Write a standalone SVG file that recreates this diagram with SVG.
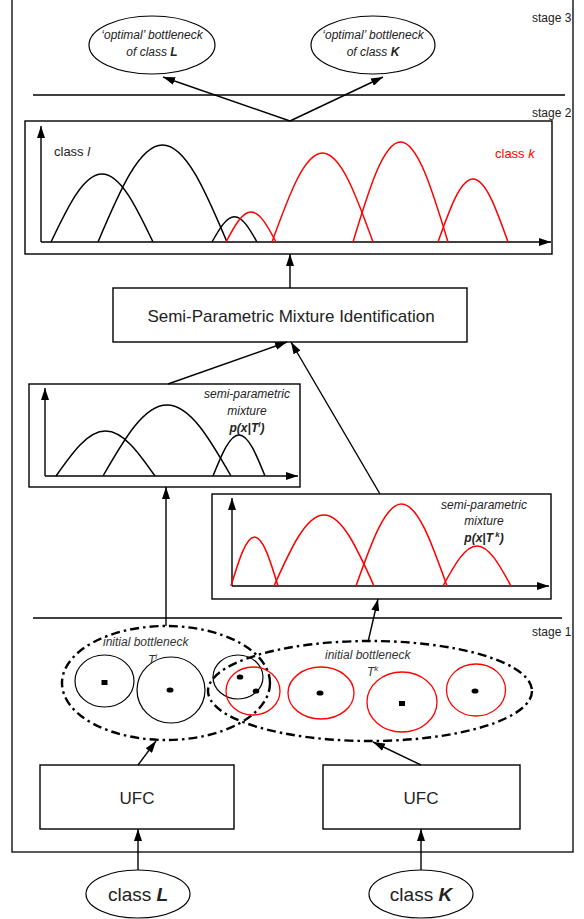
<svg xmlns="http://www.w3.org/2000/svg" width="584" height="919" viewBox="0 0 584 919">
  <style>
    text { font-family: "Liberation Sans", Arial, sans-serif; fill: #222; }
    .box { fill: #fff; stroke: #000; stroke-width: 1.4; }
    .thin { fill: none; stroke: #000; stroke-width: 1.2; }
    .curveK { fill: none; stroke: #000; stroke-width: 1.5; }
    .curveR { fill: none; stroke: #f00; stroke-width: 1.5; }
    .circ { fill: none; stroke: #000; stroke-width: 1.2; }
    .circR { fill: none; stroke: #f00; stroke-width: 1.3; }
    .dashdot { fill: none; stroke: #000; stroke-width: 2.4; stroke-dasharray: 9 4 2.5 4; }
    .conn { fill: none; stroke: #000; stroke-width: 1.4; marker-end: url(#ah); }
    .axis { fill: none; stroke: #000; stroke-width: 1.4; marker-end: url(#ah); }
    .it { font-style: italic; }
    .bi { font-style: italic; font-weight: bold; }
    .lbl { font-size: 12px; }
  </style>
  <defs>
    <marker id="ah" viewBox="0 0 12 8" refX="12" refY="4" markerWidth="12" markerHeight="8" orient="auto" markerUnits="userSpaceOnUse">
      <path d="M0,0 L12,4 L0,8 z" fill="#000"/>
    </marker>
  </defs>

  <!-- outer frame and stage separators -->
  <g id="frame">
    <rect x="12" y="-2" width="561" height="854" fill="none" stroke="#000" stroke-width="1.3"/>
    <line x1="33" y1="95" x2="565" y2="95" stroke="#000" stroke-width="1.3"/>
    <line x1="33" y1="618" x2="562" y2="618" stroke="#000" stroke-width="1.3"/>
    <text x="532" y="22" class="lbl">stage 3</text>
    <text x="532" y="117" class="lbl">stage 2</text>
    <text x="532" y="636" class="lbl">stage 1</text>
  </g>

  <!-- stage 3 results -->
  <g id="optimal-L">
    <ellipse cx="152" cy="45" rx="63" ry="29" class="thin"/>
    <text x="152" y="39" text-anchor="middle" class="lbl it">‘optimal’ bottleneck</text>
    <text x="152" y="56" text-anchor="middle" class="lbl it">of class  <tspan class="bi">L</tspan></text>
  </g>
  <g id="optimal-K">
    <ellipse cx="373" cy="45" rx="62" ry="29" class="thin"/>
    <text x="373" y="39" text-anchor="middle" class="lbl it">‘optimal’ bottleneck</text>
    <text x="373" y="56" text-anchor="middle" class="lbl it">of class  <tspan class="bi">K</tspan></text>
  </g>

  <!-- stage 2 combined mixture plot -->
  <g id="combined-plot">
    <rect x="25" y="121" width="527" height="133" class="box"/>
    <path d="M41,242 V126" class="axis"/>
    <path d="M41,242 H551" class="axis"/>
    <path class="curveK" d="M51,242 C68,206.3 83.6,174 102,174 C120.4,174 136,206.3 153,242"/>
    <path class="curveK" d="M98,242 C119.5,191.1 139.3,145 162.5,145 C185.7,145 205.5,191.1 227,242"/>
    <path class="curveK" d="M212,242 C219.5,228.7 226.4,216.7 234.5,216.7 C242.6,216.7 249.5,228.7 257,242"/>
    <path class="curveR" d="M226,242 C234.4,226.3 242,212 251,212 C260,212 267.7,226.3 276,242"/>
    <path class="curveR" d="M272,242 C288.9,195.3 304.3,153 322.5,153 C340.7,153 356.1,195.3 373,242"/>
    <path class="curveR" d="M353,242 C368.9,189.5 383.4,142 400.5,142 C417.6,142 432.1,189.5 448,242"/>
    <path class="curveR" d="M438,242 C449.7,208.9 460.4,179 473,179 C485.6,179 496.3,208.9 508,242"/>
    <text x="54" y="156" font-size="13">class   <tspan class="it">l</tspan></text>
    <text x="495" y="158" font-size="13" style="fill:#f00">class   <tspan class="it">k</tspan></text>
  </g>

  <!-- identification step -->
  <g id="identification">
    <rect x="113" y="288" width="354" height="54" class="box"/>
    <text x="291" y="322" text-anchor="middle" font-size="17">Semi-Parametric Mixture Identification</text>
  </g>

  <!-- class l mixture -->
  <g id="mixture-l">
    <rect x="29" y="384" width="271" height="103" class="box"/>
    <path d="M45,476 V388" class="axis"/>
    <path d="M45,476 H298" class="axis"/>
    <path class="curveK" d="M56,476 C72.5,452.4 87.7,431 105.5,431 C123.3,431 138.5,452.4 155,476"/>
    <path class="curveK" d="M103,476 C124.4,438.7 144,405 167,405 C190,405 209.6,438.7 231,476"/>
    <path class="curveK" d="M213,476 C221.7,454.5 229.6,435 239,435 C248.4,435 256.3,454.5 265,476"/>
    <text x="247" y="398" text-anchor="middle" class="lbl it">semi-parametric</text>
    <text x="247" y="415" text-anchor="middle" class="lbl it">mixture</text>
    <text x="247" y="432" text-anchor="middle" class="lbl bi">p(x|T<tspan font-size="8" dy="-5">l</tspan><tspan dy="5">)</tspan></text>
  </g>

  <!-- class k mixture -->
  <g id="mixture-k">
    <rect x="212" y="494" width="339" height="105" class="box"/>
    <path d="M232,586 V498" class="axis"/>
    <path d="M232,586 H549" class="axis"/>
    <path class="curveR" d="M231,586 C238.8,560.3 246,537 254.5,537 C263,537 270.2,560.3 278,586"/>
    <path class="curveR" d="M274,586 C290.7,548.7 306,515 324,515 C342,515 357.3,548.7 374,586"/>
    <path class="curveR" d="M356,586 C371.2,543 385.1,504 401.5,504 C417.9,504 431.8,543 447,586"/>
    <path class="curveR" d="M443,586 C454.4,565 464.8,546 477,546 C489.2,546 499.6,565 511,586"/>
    <text x="484" y="509" text-anchor="middle" class="lbl it">semi-parametric</text>
    <text x="484" y="525" text-anchor="middle" class="lbl it">mixture</text>
    <text x="484" y="542" text-anchor="middle" class="lbl bi">p(x|T<tspan font-size="8" dy="-5"> k</tspan><tspan dy="5">)</tspan></text>
  </g>

  <!-- stage 1 initial bottleneck of class l -->
  <g id="bottleneck-l">
    <ellipse cx="166" cy="683" rx="104" ry="57" class="dashdot"/>
    <ellipse cx="104.5" cy="681" rx="29.5" ry="26" class="circ"/>
    <rect x="101.5" y="680" width="6" height="5" fill="#000"/>
    <ellipse cx="171" cy="690" rx="34" ry="33" class="circ"/>
    <ellipse cx="170" cy="690" rx="3.5" ry="2.6" fill="#000"/>
    <ellipse cx="238" cy="677" rx="25" ry="22" class="circ"/>
    <ellipse cx="240" cy="677" rx="3.3" ry="2.6" fill="#000"/>
    <ellipse cx="256" cy="691" rx="3.3" ry="2.6" fill="#000"/>
    <text x="103" y="646" class="lbl it" style="fill:#333">initial bottleneck</text>
    <text x="148" y="664" class="lbl it" style="fill:#333">T<tspan font-size="8" dy="-5">l</tspan></text>
  </g>

  <!-- stage 1 initial bottleneck of class k -->
  <g id="bottleneck-k">
    <ellipse cx="370" cy="691" rx="162" ry="50" class="dashdot"/>
    <ellipse cx="253" cy="691" rx="27" ry="24" class="circR"/>
    <ellipse cx="321" cy="693" rx="33" ry="26" class="circR"/>
    <ellipse cx="320" cy="693" rx="3.5" ry="2.6" fill="#000"/>
    <ellipse cx="402" cy="702" rx="35" ry="30" class="circR"/>
    <rect x="399" y="701" width="6" height="5" fill="#000"/>
    <ellipse cx="476" cy="690" rx="29.5" ry="26" class="circR"/>
    <ellipse cx="475" cy="691" rx="3.5" ry="2.6" fill="#000"/>
    <text x="325" y="659" class="lbl it" style="fill:#333">initial bottleneck</text>
    <text x="367" y="676" class="lbl it" style="fill:#333">T<tspan font-size="8" dy="-5">k</tspan></text>
  </g>

  <!-- feature extraction -->
  <g id="ufc-l">
    <rect x="40" y="765" width="194" height="64" class="box"/>
    <text x="137" y="804" text-anchor="middle" font-size="17">UFC</text>
  </g>
  <g id="ufc-k">
    <rect x="323" y="765" width="197" height="64" class="box"/>
    <text x="421" y="804" text-anchor="middle" font-size="17">UFC</text>
  </g>

  <!-- input classes -->
  <g id="class-L">
    <ellipse cx="138" cy="894" rx="52" ry="24" class="thin"/>
    <text x="138" y="901" text-anchor="middle" font-size="19">class <tspan class="bi">L</tspan></text>
  </g>
  <g id="class-K">
    <ellipse cx="421" cy="894" rx="52" ry="24" class="thin"/>
    <text x="421" y="901" text-anchor="middle" font-size="19">class <tspan class="bi">K</tspan></text>
  </g>

  <!-- connectors -->
  <g id="connectors">
    <path class="conn" d="M138,870 V829"/>
    <path class="conn" d="M421,870 V829"/>
    <path class="conn" d="M138,765 L156,741"/>
    <path class="conn" d="M421,765 L373,742"/>
    <path class="conn" d="M166,626 V487"/>
    <path class="conn" d="M368,642 L378,599"/>
    <path class="conn" d="M168,384 L287,342"/>
    <path class="conn" d="M380,494 L291,342"/>
    <path class="conn" d="M290,288 V254"/>
    <path class="conn" d="M290,121 L163,77"/>
    <path class="conn" d="M290,121 L383,77"/>
  </g>
</svg>
